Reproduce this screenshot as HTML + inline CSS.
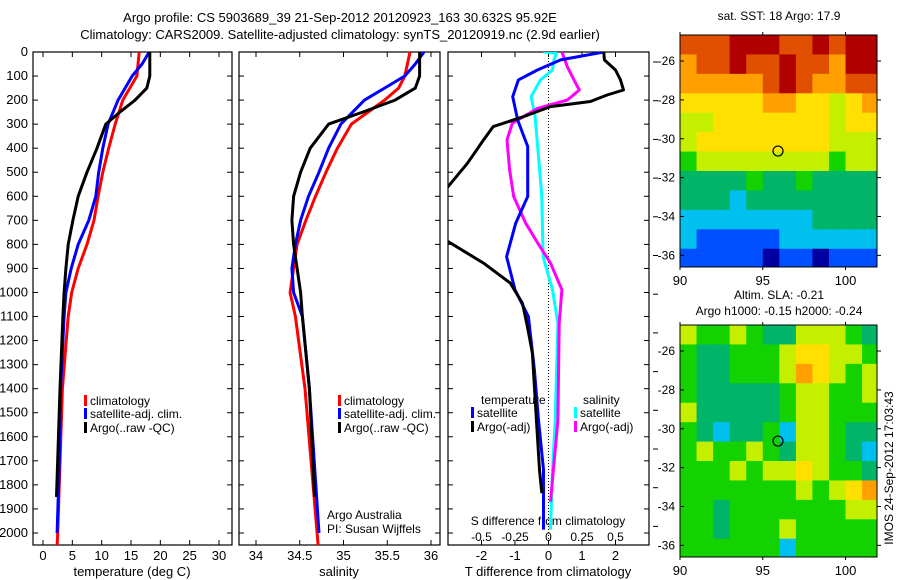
<!DOCTYPE html>
<html><head><meta charset="utf-8"><style>
body{margin:0;background:#fff;}
svg{display:block;font-family:"Liberation Sans",sans-serif;}
text{font-size:13px;fill:#000;}
</style></head><body>
<svg id="fig" width="900" height="580" viewBox="0 0 900 580" xmlns="http://www.w3.org/2000/svg">
<text x="340" y="22" text-anchor="middle">Argo profile: CS 5903689_39 21-Sep-2012 20120923_163 30.632S 95.92E</text>
<text x="340" y="39" text-anchor="middle">Climatology: CARS2009. Satellite-adjusted climatology: synTS_20120919.nc (2.9d earlier)</text>
<text x="779" y="20" text-anchor="middle" style="font-size:12px">sat. SST: 18 Argo: 17.9</text>
<text x="779" y="299" text-anchor="middle" style="font-size:12px">Altim. SLA: -0.21</text>
<text x="779" y="315" text-anchor="middle" style="font-size:12px">Argo h1000: -0.15 h2000: -0.24</text>
<text transform="translate(893,468) rotate(-90)" text-anchor="middle" style="font-size:12px">IMOS 24-Sep-2012 17:03:43</text>
<g id="g"></g>
</svg>
<script>
// ---------- data ----------
const tempClimDepth=[0,100,200,300,400,500,600,700,800,900,1000,1100,1400,2000,2050];
const tempClim=[16.4,16.0,13.6,12.3,11.2,10.2,9.4,8.7,7.5,6.0,4.9,4.3,3.3,2.5,2.4];
const tempSatDepth=[0,50,100,150,200,300,400,500,600,700,800,900,1000,1100,1400,1700,2000];
const tempSat=[18.1,16.9,15.2,14.0,12.8,11.1,10.2,9.5,9.0,7.8,6.0,4.8,3.9,3.6,3.0,2.8,2.4];
const tempArgoDepth=[0,100,150,200,250,300,400,500,600,700,800,900,1000,1100,1400,1850];
const tempArgo=[18.2,18.2,17.7,15.7,13.1,10.7,9.2,7.5,6.0,5.1,4.3,3.9,3.6,3.4,2.9,2.3];

const salClimDepth=[0,100,150,200,300,400,500,600,700,800,900,1000,1100,1400,2050];
const salClim=[35.76,35.70,35.63,35.47,35.09,34.93,34.80,34.68,34.57,34.47,34.43,34.39,34.45,34.56,34.71];
const salSatDepth=[0,50,100,150,200,300,400,500,600,700,800,900,1000,1100,1400,2000];
const salSat=[35.92,35.82,35.70,35.47,35.24,34.97,34.83,34.72,34.60,34.51,34.45,34.41,34.43,34.53,34.61,34.72];
const salArgoDepth=[0,100,150,200,250,300,400,500,600,700,800,900,1000,1100,1400,1850];
const salArgo=[35.87,35.87,35.82,35.59,35.22,34.83,34.62,34.51,34.43,34.41,34.43,34.47,34.51,34.53,34.61,34.67];

const dTSatDepth=[0,33,75,116,186,283,393,601,712,851,989,1100,1322,1530,1737,1986];
const dTSat=[1.65,0.36,-0.33,-0.9,-1.07,-0.92,-0.62,-0.62,-0.98,-1.25,-1.0,-0.6,-0.42,-0.3,-0.15,-0.15];
const dTArgoDepth=[0,33,75,116,158,179,206,227,269,310,366,463,560,640,760,788,878,961,1044,1142,1252,1530,1737,1834];
const dTArgo=[1.65,1.67,2.0,2.15,2.24,1.75,1.25,0.06,-0.75,-1.65,-1.94,-2.42,-3.0,-3.6,-3.4,-3.0,-1.94,-1.14,-0.78,-0.63,-0.48,-0.36,-0.27,-0.2];
const dSSatDepth=[0,5,33,75,116,186,269,463,601,851,989,1128,1530,1737,1986];
const dSSat=[-0.04,0.06,0.04,0.03,-0.06,-0.13,-0.1,-0.07,-0.05,-0.04,0.03,0.07,0.05,0.03,0.015];
const dSArgoDepth=[0,61,116,158,200,234,296,366,490,601,712,795,878,989,1128,1530,1870];
const dSArgo=[0.1,0.14,0.19,0.23,0.14,-0.08,-0.27,-0.31,-0.29,-0.26,-0.17,-0.08,0.015,0.1,0.08,0.07,0.015];

const depthTicks=[0,100,200,300,400,500,600,700,800,900,1000,1100,1200,1300,1400,1500,1600,1700,1800,1900,2000];
const tempTicks=[0,5,10,15,20,25,30];
const salTicks=[34,34.5,35,35.5,36];
const dTTicks=[-2,-1,0,1,2];
const dSTicks=[-0.5,-0.25,0,0.25,0.5];
const latTicks=[-26,-28,-30,-32,-34,-36];
const lonTicks=[90,95,100];

const sstGrid=[
[8,8,8,9,9,9,8,8,9,8,9,9],
[7,8,8,9,8,8,9,8,8,7,9,9],
[7,7,7,7,7,8,9,8,7,7,8,8],
[6,6,6,6,6,7,7,6,6,5,6,7],
[5,5,6,6,6,6,6,6,6,5,6,6],
[5,6,6,6,6,6,6,6,6,5,5,5],
[4,5,5,5,5,5,5,5,5,4,5,5],
[3,3,3,3,4,3,3,4,3,3,3,3],
[3,3,3,2,3,3,3,3,3,3,3,3],
[2,2,2,2,2,2,2,2,3,3,3,3],
[2,1,1,1,1,1,2,2,2,2,2,2],
[1,1,1,1,1,0,1,1,0,1,1,1]];
const slaGrid=[
[5,4,4,5,4,3,3,5,5,5,4,3],
[4,3,3,4,4,4,5,6,6,5,5,4],
[4,3,3,4,4,4,5,7,6,5,4,5],
[4,3,3,3,3,3,4,5,5,4,4,5],
[5,3,3,3,3,3,4,5,5,4,4,4],
[4,3,2,3,3,4,2,5,5,4,3,3],
[4,5,4,4,5,4,3,5,5,4,3,2],
[4,4,4,5,4,5,5,6,5,4,4,3],
[4,4,4,4,4,4,4,5,4,5,6,7],
[4,4,3,4,4,4,4,4,4,4,5,5],
[4,4,3,4,4,4,5,4,4,4,4,4],
[4,4,4,4,4,4,2,4,4,4,4,4]];
const argoLon=95.92, argoLat=-30.632;

// ---------- drawing ----------
const NS="http://www.w3.org/2000/svg";
const G=document.getElementById('g');
function el(tag,attrs,parent){const e=document.createElementNS(NS,tag);for(const k in attrs)e.setAttribute(k,attrs[k]);(parent||G).appendChild(e);return e;}
const Y0=52,YB=545,DMAX=2050;
const yD=d=>Y0+(YB-Y0)*d/DMAX;
function linScale(d0,d1,r0,r1){return v=>r0+(v-d0)*(r1-r0)/(d1-d0);}
const xT=linScale(0,30,43,219);
const xS=linScale(34,36,256,431);
const xDT=linScale(-3,3,448,649);
const xDS=linScale(-0.75,0.75,448,649);

function frame(x0,x1,name){
  const r=el('rect',{x:x0,y:Y0,width:x1-x0,height:YB-Y0,fill:'none',stroke:'#000','stroke-width':1.2});
  
  
  depthTicks.forEach(d=>{
    el('line',{x1:x0,x2:x0+5,y1:yD(d),y2:yD(d),stroke:'#000'});
    el('line',{x1:x1,x2:x1-5,y1:yD(d),y2:yD(d),stroke:'#000'});
  });
}
function xticks(ticks,sc,y,name){
  ticks.forEach(v=>{
    const x=sc(v);
    el('line',{x1:x,x2:x,y1:YB,y2:YB-5,stroke:'#000'});
    el('line',{x1:x,x2:x,y1:Y0,y2:Y0+5,stroke:'#000'});
    const t=el('text',{x:x,y:y,'text-anchor':'middle'});
    t.textContent=String(v);
    
    
  });
}
function series(depths,vals,sc,color,name,clip){
  const pts=depths.map((d,i)=>sc(vals[i]).toFixed(1)+','+yD(d).toFixed(1)).join(' ');
  const p=el('polyline',{points:pts,fill:'none',stroke:color,'stroke-width':3,'stroke-linejoin':'round'});
  if(clip)p.setAttribute('clip-path','url(#'+clip+')');
  
  
}
function txt(x,y,s,name,anchor,size){
  const t=el('text',{x:x,y:y,'text-anchor':anchor||'start'});
  if(size)t.setAttribute('style','font-size:'+size+'px');
  t.textContent=s;
  
  
  return t;
}
function legendEntry(x,y,color,label,name){
  el('rect',{x:x,y:y-10,width:3,height:11,fill:color});
  txt(x+6,y,label,name,null,12);
}

// y labels
depthTicks.forEach(d=>{
  const t=el('text',{x:28,y:yD(d)+4,'text-anchor':'end'});
  t.textContent=d;
  
  
});

// panel 1 temperature
frame(33,232,'temperature-panel');
xticks(tempTicks,xT,560,'temperature-tick-label');
txt(132,576,'temperature (deg C)','temperature-axis-title','middle');
series(tempClimDepth,tempClim,xT,'#ff0000','temperature-climatology-line');
series(tempSatDepth,tempSat,xT,'#0000ff','temperature-satellite-line');
series(tempArgoDepth,tempArgo,xT,'#000000','temperature-argo-line');
legendEntry(84,405,'#ff0000','climatology','legend-climatology');
legendEntry(84,418,'#0000ff','satellite-adj. clim.','legend-satellite-adj');
legendEntry(84,432,'#000000','Argo(..raw -QC)','legend-argo');

// panel 2 salinity
frame(239,440,'salinity-panel');
xticks(salTicks,xS,560,'salinity-tick-label');
txt(339,576,'salinity','salinity-axis-title','middle');
series(salClimDepth,salClim,xS,'#ff0000','salinity-climatology-line');
series(salSatDepth,salSat,xS,'#0000ff','salinity-satellite-line');
series(salArgoDepth,salArgo,xS,'#000000','salinity-argo-line');
legendEntry(338,405,'#ff0000','climatology','legend-climatology-sal');
legendEntry(338,418,'#0000ff','satellite-adj. clim.','legend-satellite-adj-sal');
legendEntry(338,432,'#000000','Argo(..raw -QC)','legend-argo-sal');
txt(327,519,'Argo Australia','argo-australia-label',null,12);
txt(327,533,'PI: Susan Wijffels','pi-label',null,12);

// panel 3 differences
const defs=el('defs',{});
const cp=el('clipPath',{id:'p3clip'},defs);
el('rect',{x:448,y:Y0,width:201,height:YB-Y0},cp);
frame(448,649,'difference-panel');
el('line',{x1:xDT(0),x2:xDT(0),y1:Y0,y2:YB,stroke:'#000','stroke-dasharray':'1,2'});
xticks(dTTicks,xDT,560,'t-diff-tick-label');
dSTicks.forEach(v=>{txt(xDS(v),541,String(v),'s-diff-tick-label','middle',12);});
txt(548,525,'S difference from climatology','s-diff-axis-title','middle',12);
txt(548,576,'T difference from climatology','t-diff-axis-title','middle');
for(let y=62;y<530;y+=38.7) el('line',{x1:653,x2:658,y1:y,y2:y,stroke:'#000'});
series(dSSatDepth,dSSat,xDS,'#00ffff','s-diff-satellite-line','p3clip');
series(dSArgoDepth,dSArgo,xDS,'#ff00ff','s-diff-argo-line','p3clip');
series(dTSatDepth,dTSat,xDT,'#0000ff','t-diff-satellite-line','p3clip');
series(dTArgoDepth,dTArgo,xDT,'#000000','t-diff-argo-line','p3clip');
txt(481,404,'temperature','legend-temperature-heading',null,12);
legendEntry(471,417,'#0000ff','satellite','legend-t-satellite');
legendEntry(471,431,'#000000','Argo(-adj)','legend-t-argo');
txt(583,404,'salinity','legend-salinity-heading',null,12);
legendEntry(574,417,'#00ffff','satellite','legend-s-satellite');
legendEntry(574,431,'#ff00ff','Argo(-adj)','legend-s-argo');

// maps
const palette=['#0000a0','#0050ff','#00c0f0','#00b468','#14d200','#c4f000','#ffe000','#ffa000','#e05000','#b00000'];
function map(grid,top,name){
  const x0=680,x1=877,y1=top+232;
  const lx=linScale(90,101.9,x0,x1), ly=linScale(-24.66,-36.6,top,y1);
  const g=el('g',{});
  
  
  grid.forEach((row,r)=>row.forEach((v,c)=>{
    const xa=lx(90+c);
    const xb=Math.min(lx(91+c),x1);
    const ya=ly(-24.66-r);
    const yb=(r==grid.length-1)?y1:Math.min(ly(-25.66-r),y1);
    const w=(c==row.length-1)?(x1-xa):(xb-xa+0.5);
    const h=(r==grid.length-1)?(yb-ya):(yb-ya+0.5);
    const rect=el('rect',{x:xa,y:ya,width:w,height:h,fill:palette[v]},g);
    
    
  }));
  el('rect',{x:x0,y:top,width:x1-x0,height:232,fill:'none',stroke:'#000'});
  latTicks.forEach(l=>{
    const y=ly(l);
    el('line',{x1:x0,x2:x0+4,y1:y,y2:y,stroke:'#000'});
    el('line',{x1:x1,x2:x1+4,y1:y,y2:y,stroke:'#000'});
    txt(675,y+4,String(l),'lat-tick-label','end',12);
  });
  lonTicks.forEach(l=>{
    const x=lx(l);
    el('line',{x1:x,x2:x,y1:y1,y2:y1+3,stroke:'#000'});
    el('line',{x1:x,x2:x,y1:top,y2:top-3,stroke:'#000'});
    txt(x,y1+18,String(l),'lon-tick-label','middle',13);
  });
  const c=el('circle',{cx:lx(argoLon),cy:ly(argoLat),r:5,fill:'none',stroke:'#000','stroke-width':1.2});
  
  
}
map(sstGrid,35,'sst-map');
map(slaGrid,325,'sla-map');
</script>
</body></html>
